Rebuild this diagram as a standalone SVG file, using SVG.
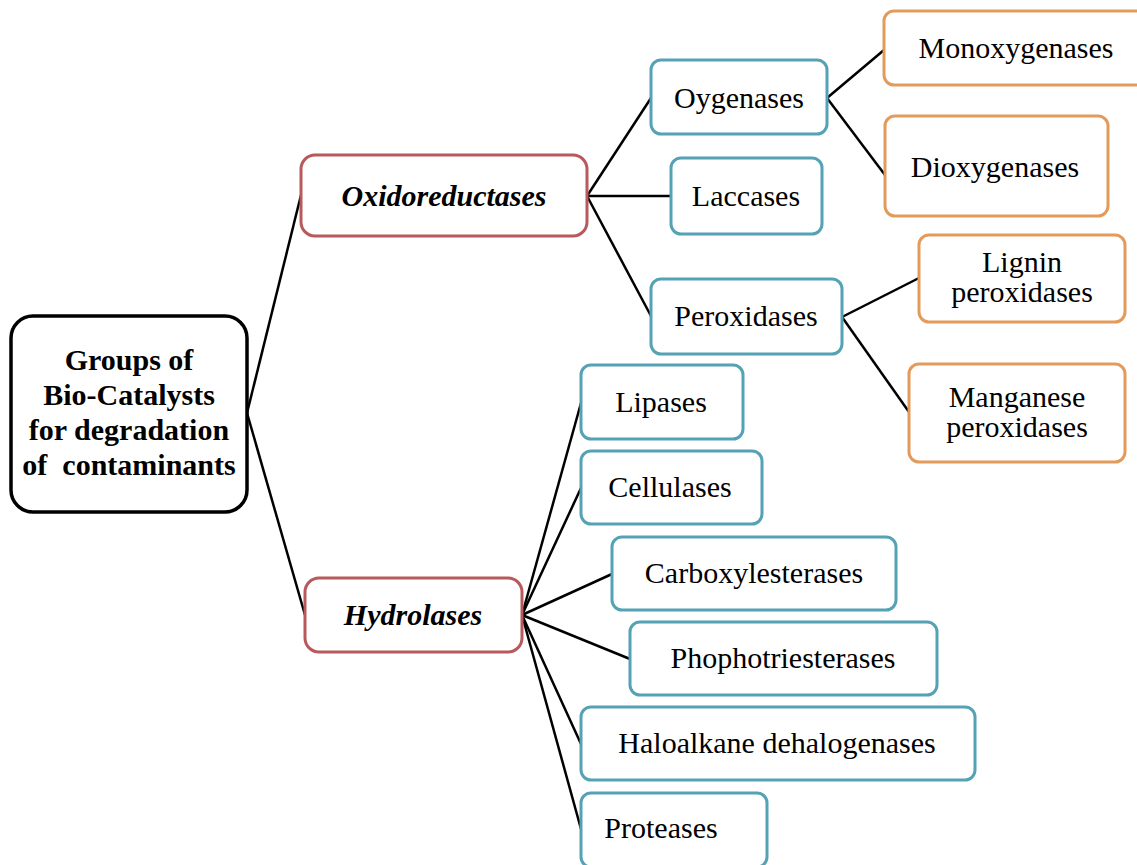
<svg xmlns="http://www.w3.org/2000/svg" width="1137" height="865" viewBox="0 0 1137 865">
<style>
.box{fill:#fff;stroke-width:3}
.root{stroke:#000;stroke-width:3.5}
.red{stroke:#B85A5C}
.teal{stroke:#55A2B5}
.orange{stroke:#E39B5C}
text{font-family:"Liberation Serif","Times New Roman",serif;font-size:30px;fill:#000;text-anchor:middle}
.b{font-weight:bold}
.bi{font-weight:bold;font-style:italic}
.conn line{stroke:#000;stroke-width:2.5}
</style>
<rect width="1137" height="865" fill="#fff"/>
<g class="conn" id="connectors">
<line x1="247" y1="413" x2="301" y2="195"/>
<line x1="247" y1="413" x2="305" y2="615"/>
<line x1="587" y1="196" x2="651" y2="98"/>
<line x1="587" y1="196" x2="671" y2="196"/>
<line x1="587" y1="196" x2="651" y2="316"/>
<line x1="827" y1="98" x2="884" y2="50"/>
<line x1="827" y1="98" x2="885" y2="175"/>
<line x1="842" y1="317" x2="919" y2="278"/>
<line x1="842" y1="317" x2="909" y2="412"/>
<line x1="522" y1="615" x2="581" y2="403"/>
<line x1="522" y1="615" x2="581" y2="488"/>
<line x1="522" y1="615" x2="612" y2="574"/>
<line x1="522" y1="615" x2="630" y2="659"/>
<line x1="522" y1="615" x2="581" y2="744"/>
<line x1="522" y1="615" x2="581" y2="829"/>
</g>
<g id="root"><rect class="box root" x="11" y="316" width="236" height="196" rx="22"/>
<text class="b" x="129" y="370">Groups of</text>
<text class="b" x="129" y="405">Bio-Catalysts</text>
<text class="b" x="129" y="440">for degradation</text>
<text class="b" x="129" y="475" xml:space="preserve">of  contaminants</text></g>
<g id="oxidoreductases"><rect class="box red" x="301" y="155" width="286" height="81" rx="14"/><text class="bi" x="444" y="206">Oxidoreductases</text></g>
<g id="hydrolases"><rect class="box red" x="305" y="578" width="217" height="74" rx="14"/><text class="bi" x="413" y="625">Hydrolases</text></g>
<g id="oygenases"><rect class="box teal" x="651" y="60" width="176" height="74" rx="10"/><text x="739" y="108">Oygenases</text></g>
<g id="laccases"><rect class="box teal" x="671" y="158" width="151" height="76" rx="10"/><text x="746" y="206">Laccases</text></g>
<g id="peroxidases"><rect class="box teal" x="651" y="279" width="191" height="75" rx="10"/><text x="746" y="326">Peroxidases</text></g>
<g id="monoxygenases"><rect class="box orange" x="884" y="11" width="262" height="74" rx="10"/><text x="1016" y="58">Monoxygenases</text></g>
<g id="dioxygenases"><rect class="box orange" x="885" y="116" width="223" height="100" rx="10"/><text x="995" y="177">Dioxygenases</text></g>
<g id="lignin"><rect class="box orange" x="919" y="235" width="206" height="87" rx="10"/><text x="1022" y="272">Lignin</text><text x="1022" y="302">peroxidases</text></g>
<g id="manganese"><rect class="box orange" x="909" y="364" width="216" height="98" rx="10"/><text x="1017" y="407">Manganese</text><text x="1017" y="437">peroxidases</text></g>
<g id="lipases"><rect class="box teal" x="581" y="365" width="162" height="74" rx="10"/><text x="661" y="412">Lipases</text></g>
<g id="cellulases"><rect class="box teal" x="581" y="451" width="181" height="73" rx="10"/><text x="670" y="497">Cellulases</text></g>
<g id="carboxylesterases"><rect class="box teal" x="612" y="537" width="284" height="73" rx="10"/><text x="754" y="583">Carboxylesterases</text></g>
<g id="phophotriesterases"><rect class="box teal" x="630" y="622" width="307" height="73" rx="10"/><text x="783" y="668">Phophotriesterases</text></g>
<g id="haloalkane"><rect class="box teal" x="581" y="707" width="394" height="73" rx="10"/><text x="777" y="753">Haloalkane dehalogenases</text></g>
<g id="proteases"><rect class="box teal" x="581" y="793" width="186" height="74" rx="10"/><text x="661" y="838">Proteases</text></g>
</svg>
